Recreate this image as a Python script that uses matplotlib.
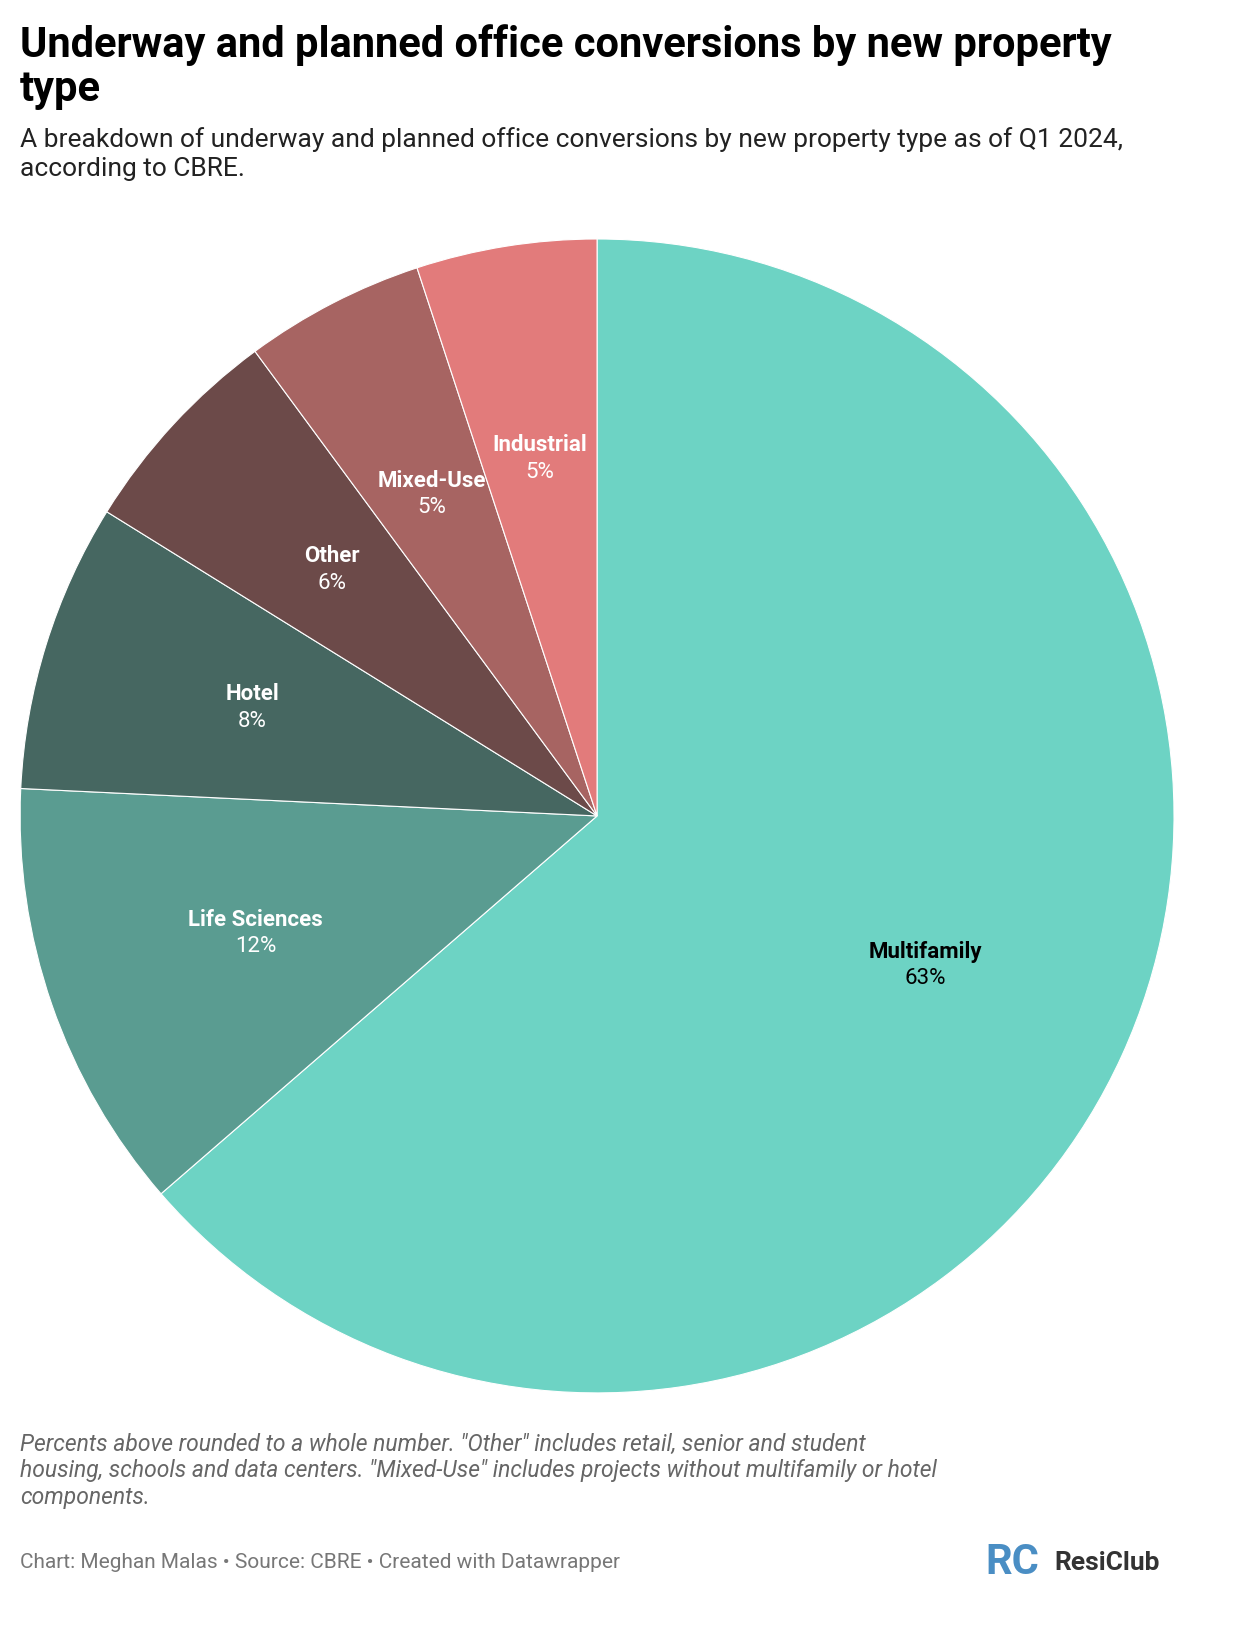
import numpy as np
import matplotlib.pyplot as plt

plt.rcParams['font.family'] = ['Roboto', 'DejaVu Sans']

categories = ['Multifamily', 'Life Sciences', 'Hotel', 'Other', 'Mixed-Use', 'Industrial']
shares = [63, 12, 8, 6, 5, 5]
colors = ['#6dd3c4', '#5a9c91', '#466761', '#6c4a49', '#a76462', '#e27b7b']
text_colors = ['black', 'white', 'white', 'white', 'white', 'white']

fig = plt.figure(figsize=(12.4, 16.28), dpi=100)

fig.text(0.016, 0.985, 'Underway and planned office conversions by new property\ntype',
         fontsize=30, fontweight='bold', va='top', linespacing=1.1)
fig.text(0.016, 0.922, 'A breakdown of underway and planned office conversions by new property type as of Q1 2024,\naccording to CBRE.',
         fontsize=19, va='top', color='#222222', linespacing=1.25)

ax = fig.add_axes([0.4815 - 0.4653, 0.4988 - 0.3544, 0.9306, 0.7088])
wedges, _ = ax.pie(shares, colors=colors, startangle=90, counterclock=False,
                   wedgeprops=dict(edgecolor='white', linewidth=0.8))
ax.set_xlim(-1, 1)
ax.set_ylim(-1, 1)
ax.set_aspect('equal')

for w, name, v, tc in zip(wedges, categories, shares, text_colors):
    mid = np.deg2rad((w.theta1 + w.theta2) / 2)
    x, y = 0.626 * np.cos(mid), 0.626 * np.sin(mid)
    ax.text(x, y + 0.025, name, ha='center', va='center', fontsize=16,
            fontweight='bold', color=tc)
    ax.text(x, y - 0.022, f'{v}%', ha='center', va='center', fontsize=16, color=tc)

fig.text(0.016, 0.120, 'Percents above rounded to a whole number. "Other" includes retail, senior and student\n'
         'housing, schools and data centers. "Mixed-Use" includes projects without multifamily or hotel\n'
         'components.', fontsize=16.5, style='italic', color='#666666', va='top', linespacing=1.2)
fig.text(0.016, 0.040, 'Chart: Meghan Malas \u2022 Source: CBRE \u2022 Created with Datawrapper',
         fontsize=15, color='#777777', va='center')
fig.text(0.795, 0.040, 'RC', fontsize=30, fontweight='bold', color='#4a8ec4', va='center')
fig.text(0.850, 0.040, 'ResiClub', fontsize=19, fontweight='bold', color='#333333', va='center')

fig.savefig('out.png', dpi=100)
